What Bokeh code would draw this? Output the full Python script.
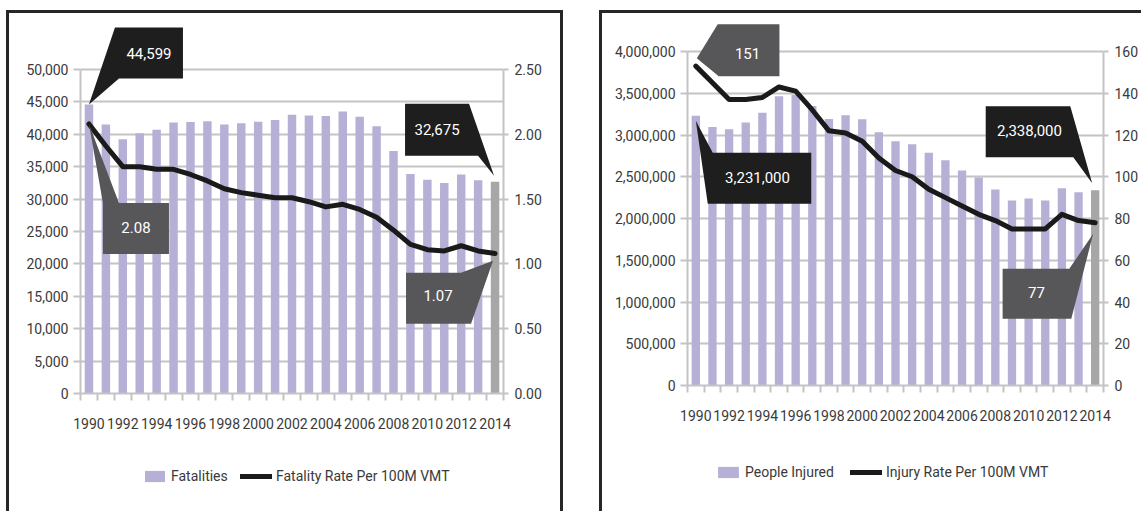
from bokeh.plotting import figure
from bokeh.layouts import row, column
from bokeh.models import (Range1d, LinearAxis, FixedTicker, NumeralTickFormatter,
                          Legend, LegendItem, PolyAnnotation, Label, Spacer)
from bokeh.embed import file_html
from bokeh.resources import INLINE

# ---------------- data ----------------
years = list(range(1990, 2015))
fatalities = [44599, 41508, 39250, 40150, 40716, 41817, 41907, 42013, 41501, 41717,
              41945, 42196, 43005, 42884, 42836, 43510, 42708, 41259, 37423, 33883,
              32999, 32479, 33782, 32894, 32675]
fatality_rate = [2.08, 1.91, 1.75, 1.75, 1.73, 1.73, 1.69, 1.64, 1.58, 1.55,
                 1.53, 1.51, 1.51, 1.48, 1.44, 1.46, 1.42, 1.36, 1.26, 1.15,
                 1.11, 1.10, 1.14, 1.10, 1.08]
injured = [3231000, 3097000, 3070000, 3149000, 3266000, 3465000, 3483000, 3348000,
           3192000, 3236000, 3189000, 3033000, 2926000, 2889000, 2788000, 2699000,
           2575000, 2491000, 2346000, 2217000, 2239000, 2217000, 2362000, 2313000,
           2338000]
injury_rate = [153, 145, 137, 137, 138, 143, 141, 132, 122, 121,
               117, 109, 103, 100, 94, 90, 86, 82, 79, 75,
               75, 75, 82, 79, 78]
tick_years = list(range(1990, 2015, 2))
fat_ticks = list(range(0, 50001, 5000))
fat_rate_ticks = [0.0, 0.5, 1.0, 1.5, 2.0, 2.5]
inj_ticks = list(range(0, 4000001, 500000))
inj_rate_ticks = list(range(0, 161, 20))
fat_labels = ["44,599", "2.08", "32,675", "1.07"]
inj_labels = ["151", "3,231,000", "2,338,000", "77"]
fat_legend = ["Fatalities", "Fatality Rate Per 100M VMT"]
inj_legend = ["People Injured", "Injury Rate Per 100M VMT"]

FONT = "Roboto"
FS = "14px"
TXT = "#3a3a3a"
GRID = "#c4c4c4"
LAV = "#b6afd6"
GRAYBAR = "#a7a7a7"
BLACKBOX = "#1e1e1e"
DARKBOX = "#575759"
LINEC = "#1a1a1a"
BORDERC = "#262626"


def make_chart(width, height, fl, fr, fb, axis_px, ticks, yfmt, rticks, rfmt,
               bars, rates, lab_std):
    frame_h = fb
    ymax = ticks[-1] * frame_h / axis_px
    rmax = rticks[-1] * frame_h / axis_px
    p = figure(width=width, height=height, output_backend="svg", toolbar_location=None,
               x_range=Range1d(1989.5, 2014.5), y_range=Range1d(0, ymax),
               min_border_left=fl, min_border_right=width - fr,
               min_border_top=0, min_border_bottom=height - fb)
    p.outline_line_color = None
    p.background_fill_color = "white"
    p.border_fill_color = "white"
    p.extra_y_ranges = {"rate": Range1d(0, rmax)}
    p.xgrid.visible = False
    p.ygrid.grid_line_color = GRID
    p.ygrid.grid_line_width = 2
    p.ygrid.ticker = FixedTicker(ticks=ticks, minor_ticks=[])

    xa = p.xaxis[0]
    xa.ticker = FixedTicker(ticks=tick_years, minor_ticks=[y - 0.5 for y in years] + [2014.5])
    xa.major_tick_out = 0
    xa.major_tick_in = 0
    xa.minor_tick_out = 7
    xa.minor_tick_in = 0
    xa.minor_tick_line_color = GRID
    xa.minor_tick_line_width = 2
    xa.axis_line_color = GRID
    xa.axis_line_width = 2
    xa.major_label_standoff = lab_std
    xa.major_label_text_font = FONT
    xa.major_label_text_font_size = FS
    xa.major_label_text_color = TXT

    ya = p.yaxis[0]
    ya.ticker = FixedTicker(ticks=ticks, minor_ticks=[])
    ya.bounds = (ticks[0], ticks[-1])
    ya.formatter = NumeralTickFormatter(format=yfmt)
    ya.major_tick_out = 7
    ya.major_tick_in = 0
    ya.major_tick_line_color = GRID
    ya.major_tick_line_width = 2
    ya.axis_line_color = GRID
    ya.axis_line_width = 2
    ya.major_label_standoff = 5
    ya.major_label_text_font = FONT
    ya.major_label_text_font_size = FS
    ya.major_label_text_color = TXT

    ra = LinearAxis(y_range_name="rate", ticker=FixedTicker(ticks=rticks, minor_ticks=[]),
                    formatter=NumeralTickFormatter(format=rfmt),
                    bounds=(rticks[0], rticks[-1]))
    ra.major_tick_out = 5
    ra.major_tick_in = 0
    ra.major_tick_line_color = GRID
    ra.major_tick_line_width = 2
    ra.axis_line_color = GRID
    ra.axis_line_width = 2
    ra.major_label_standoff = 6
    ra.major_label_text_font = FONT
    ra.major_label_text_font_size = FS
    ra.major_label_text_color = TXT
    p.add_layout(ra, "right")

    p.vbar(x=years[:-1], top=bars[:-1], width=0.5, fill_color=LAV, line_color=None)
    p.vbar(x=years[-1:], top=bars[-1:], width=0.5, fill_color=GRAYBAR, line_color=None)
    p.line(x=years, y=rates, y_range_name="rate", line_color=LINEC, line_width=5,
           line_join="round", line_cap="round")
    return p, ymax / frame_h, ticks[-1] / rticks[-1]


def make_legend_fig(width, height, labels, bars, rates, xb, xl, wb, vy):
    # legend strip under the chart; its frame is aligned with the chart frame
    q = figure(width=width, height=height, output_backend="svg", toolbar_location=None,
               x_range=Range1d(1989.5, 2014.5), y_range=Range1d(-2, -1),
               x_axis_type=None, y_axis_type=None,
               min_border_left=0, min_border_right=0, min_border_top=0, min_border_bottom=0)
    q.outline_line_color = None
    q.grid.visible = False
    q.background_fill_color = "white"
    q.border_fill_color = "white"
    # same series as the chart (zero-width / out of view here) so the legend has glyphs
    rb = q.vbar(x=years, top=bars, width=0, fill_color=LAV, line_color=None)
    rl = q.line(x=years, y=rates, line_color=LINEC, line_width=5, line_cap="round")
    for lab, r, x, gw in ((labels[0], rb, xb, wb), (labels[1], rl, xl, 32)):
        q.add_layout(Legend(items=[LegendItem(label=lab, renderers=[r])],
                            location=(x, vy), orientation="horizontal",
                            glyph_width=gw, glyph_height=14, label_standoff=4,
                            label_height=20, padding=0, margin=0,
                            border_line_color=None, background_fill_alpha=0,
                            label_text_font=FONT, label_text_font_size=FS,
                            label_text_color=TXT), "center")
    return q


def callout(p, ax, ay, pxx, upp, pts, tpos, text, color):
    # pts / tpos: pixel offsets from the anchor point (dy positive downward)
    xs = [ax + dx / pxx for dx, dy in pts]
    ys = [ay - dy * upp for dx, dy in pts]
    p.add_layout(PolyAnnotation(xs=xs, ys=ys, xs_units="data", ys_units="data",
                                fill_color=color, fill_alpha=1, line_color=None))
    p.add_layout(Label(x=ax + tpos[0] / pxx, y=ay - tpos[1] * upp, text=text,
                       text_align="center", text_baseline="middle",
                       text_color="white", text_font=FONT, text_font_size="15px"))


def bar(w, h, dark=True):
    s = Spacer(width=w, height=h)
    if dark:
        s.styles = {"background-color": BORDERC}
    return s


# ---------------- left chart ----------------
L_fl, L_fr, L_fb = 71, 494, 380
p1, upp1, k1 = make_chart(551, 440, L_fl, L_fr, L_fb, 324, fat_ticks, "0,0",
                          fat_rate_ticks, "0.00", fatalities, fatality_rate, 17)
pxx1 = (L_fr - L_fl) / 25.0
callout(p1, years[0], fatalities[0], pxx1, upp1,
        [(0, 0), (26, -77), (94, -77), (94, -26), (30, -26)], (60, -51), fat_labels[0], BLACKBOX)
callout(p1, years[0], fatality_rate[0] * k1, pxx1, upp1,
        [(0, 0), (30, 79), (80, 79), (80, 130), (14, 130), (14, 79)], (47, 104), fat_labels[1], DARKBOX)
callout(p1, years[-1], fatalities[-1], pxx1, upp1,
        [(-90, -78), (-26, -78), (-1, -6), (-17, -26), (-90, -26)], (-58, -52), fat_labels[2], BLACKBOX)
callout(p1, years[-1], 1.07 * k1, pxx1, upp1,
        [(-89, 18), (-34, 18), (-2, 6), (-24, 69), (-89, 69)], (-57, 41), fat_labels[3], DARKBOX)
lg1 = make_legend_fig(551, 58, fat_legend, fatalities, fatality_rate, 62, 160, 25, 25)

# ---------------- right chart ----------------
R_fl, R_fr, R_fb = 85, 503, 372
p2, upp2, k2 = make_chart(539, 440, R_fl, R_fr, R_fb, 334, inj_ticks, "0,0",
                          inj_rate_ticks, "0", injured, injury_rate, 17)
pxx2 = (R_fr - R_fl) / 25.0
callout(p2, years[0], 151 * k2, pxx2, upp2,
        [(22, -46), (84, -46), (84, 6), (23, 6), (1, -12)], (52, -17), inj_labels[0], DARKBOX)
callout(p2, years[0], injured[0], pxx2, upp2,
        [(0, 5), (17, 37), (116, 37), (116, 88), (12, 88)], (62, 62), inj_labels[1], BLACKBOX)
callout(p2, years[-1], injured[-1], pxx2, upp2,
        [(-110, -84), (-25, -84), (-3, -7), (-22, -33), (-110, -33)], (-66, -60), inj_labels[2], BLACKBOX)
callout(p2, years[-1], 77 * k2, pxx2, upp2,
        [(-93, 44), (-26, 44), (-2, 9), (-24, 94), (-93, 94)], (-59, 68), inj_labels[3], DARKBOX)
lg2 = make_legend_fig(539, 58, inj_legend, injured, injury_rate, 28, 163, 26, 29)

left_panel = column(bar(557, 10, False), bar(557, 3),
                    row(bar(3, 498), column(p1, lg1), bar(3, 498)))
right_panel = column(bar(542, 10, False), bar(542, 3),
                     row(bar(3, 498), column(p2, lg2)))
layout = row(bar(6, 511, False), left_panel, bar(36, 511, False), right_panel)
open("out.html", "w").write(file_html(layout, INLINE))
